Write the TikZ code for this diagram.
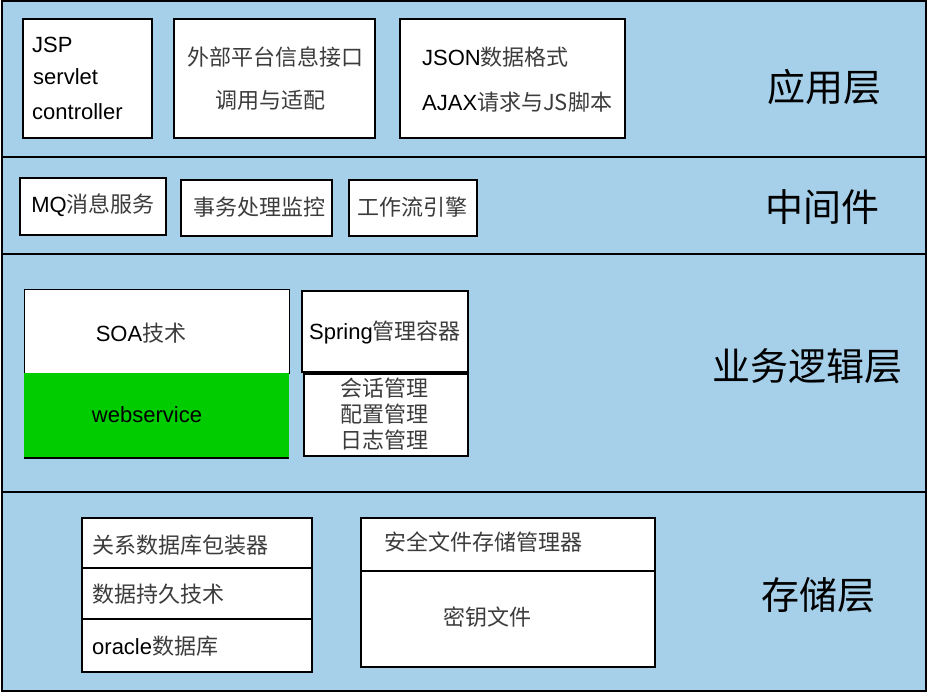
\documentclass[tikz,border=0pt]{standalone}
\usepackage{fontspec}
\setmainfont{Liberation Sans}
\newfontfamily\cjk{Noto Sans CJK SC}
\newcommand\zh[1]{{\cjk\color{zhgray}#1}}
\definecolor{layerblue}{RGB}{166,208,234}
\definecolor{wsgreen}{RGB}{0,204,0}
\definecolor{zhgray}{RGB}{60,60,60}
\begin{document}
\begin{tikzpicture}[x=1pt,y=-1pt,
  layer/.style={draw=black,line width=2.5pt,fill=layerblue,anchor=north west,inner sep=0pt,outer sep=0pt},
  wbox/.style={draw=black,line width=1.6pt,fill=white,anchor=north west,inner sep=0pt,outer sep=0pt},
  thinbox/.style={draw=black,line width=1pt,fill=white,anchor=north west,inner sep=0pt,outer sep=0pt},
  txt/.style={inner sep=0pt,font=\fontsize{22}{26}\selectfont},
  big/.style={inner sep=0pt,font=\fontsize{38}{42}\cjk}]
\useasboundingbox (0,0) rectangle (928,694);
% layers
\node[layer,minimum width=924pt,minimum height=156pt] (L1) at (2,1) {};
\node[layer,minimum width=924pt,minimum height=97pt] (L2) at (2,157) {};
\node[layer,minimum width=924pt,minimum height=238pt] (L3) at (2,254) {};
\node[layer,minimum width=924pt,minimum height=199pt] (L4) at (2,492) {};
% layer 1
\node[wbox,minimum width=129pt,minimum height=119pt] (jsp) at (23,19) {};
\node[wbox,minimum width=201pt,minimum height=119pt] (ext) at (174,19) {};
\node[wbox,minimum width=225pt,minimum height=119pt] (json) at (400,19) {};
\node[txt,anchor=west] (t1) at (32,45) {JSP};
\node[txt,anchor=west] (t2) at (33,77) {servlet};
\node[txt,anchor=west] (t3) at (32,112) {controller};
\node[txt] (t4) at (275,57) {\zh{外部平台信息接口}};
\node[txt] (t5) at (270,100) {\zh{调用与适配}};
\node[txt,anchor=west] (t6) at (422,57) {JSON\zh{数据格式}};
\node[txt,anchor=west] (t7) at (422,102) {AJAX\zh{请求与JS脚本}};
\node[big] (lab1) at (824,87) {应用层};
% layer 2
\node[wbox,minimum width=146pt,minimum height=57pt] (mq) at (20,178) {};
\node[wbox,minimum width=151pt,minimum height=56pt] (tx) at (181,180) {};
\node[wbox,minimum width=128pt,minimum height=56pt] (wf) at (349,180) {};
\node[txt] (t8) at (93,205) {MQ\zh{消息服务}};
\node[txt] (t9) at (259,207) {\zh{事务处理监控}};
\node[txt] (t10) at (412,207) {\zh{工作流引擎}};
\node[big] (lab2) at (822,207) {中间件};
% layer 3
\node[thinbox,minimum width=265pt,minimum height=84pt] (soa) at (24,289) {};
\node[fill=wsgreen,anchor=north west,inner sep=0pt,outer sep=0pt,minimum width=265pt,minimum height=85pt] (ws) at (24,373) {};
\draw[line width=1.6pt] (ws.south west) -- (ws.south east);
\node[wbox,minimum width=166pt,minimum height=81pt] (spring) at (302,291) {};
\node[wbox,minimum width=164pt,minimum height=82pt] (sess) at (304,374) {};
\node[txt] (t11) at (141,333) {SOA\zh{技术}};
\node[txt] (t12) at (147,415) {webservice};
\node[txt] (t13) at (385,332) {Spring\zh{管理容器}};
\node[txt] (t14) at (384,388) {\zh{会话管理}};
\node[txt] (t15) at (384,414) {\zh{配置管理}};
\node[txt] (t16) at (384,440) {\zh{日志管理}};
\node[big] (lab3) at (807,366) {业务逻辑层};
% layer 4
\node[wbox,minimum width=230pt,minimum height=50pt] (rel) at (82,518) {};
\node[wbox,minimum width=230pt,minimum height=51pt] (per) at (82,568) {};
\node[wbox,minimum width=230pt,minimum height=53pt] (ora) at (82,619) {};
\node[wbox,minimum width=294pt,minimum height=53pt] (sec) at (361,518) {};
\node[wbox,minimum width=294pt,minimum height=96pt] (key) at (361,571) {};
\node[txt,anchor=west] (t17) at (92,545) {\zh{关系数据库包装器}};
\node[txt,anchor=west] (t18) at (92,594) {\zh{数据持久技术}};
\node[txt,anchor=west] (t19) at (92,646) {oracle\zh{数据库}};
\node[txt,anchor=west] (t20) at (384,542) {\zh{安全文件存储管理器}};
\node[txt] (t21) at (487,617) {\zh{密钥文件}};
\node[big] (lab4) at (818,595) {存储层};
\end{tikzpicture}
\end{document}
